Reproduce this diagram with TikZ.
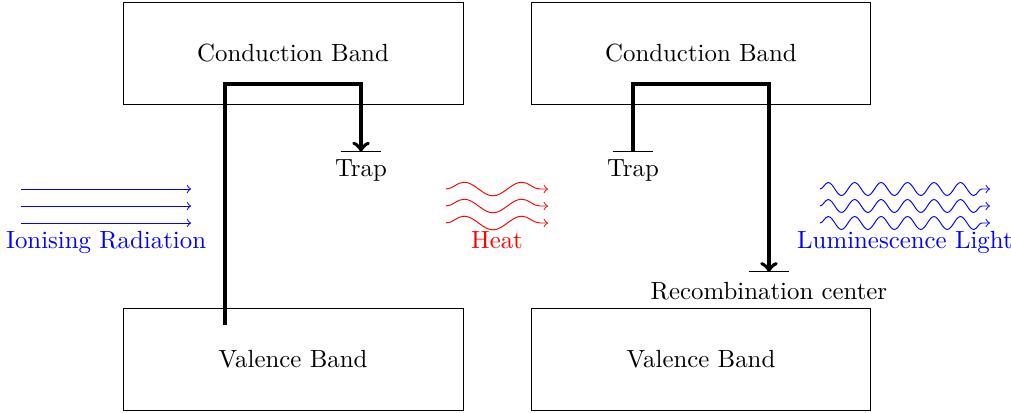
\documentclass[tikz,border=0pt]{standalone}
\usetikzlibrary{decorations.pathmorphing}
\begin{document}
\begin{tikzpicture}[every node/.style={font=\fontsize{10.4}{12.5}\selectfont}]
\useasboundingbox (-1.81,-0.03) rectangle (13.06,6.03);
\tikzset{
  band/.style={draw, minimum width=5cm, minimum height=1.5cm, inner sep=0pt},
  hop/.style={line width=1.6pt, ->},
  level/.style={draw},
  ray/.style={blue, ->},
  heatwave/.style={red, ->, decorate, decoration={snake, amplitude=0.1cm, segment length=0.85cm}},
  lightwave/.style={blue, ->, decorate, decoration={snake, amplitude=0.095cm, segment length=0.389cm}}
}
% bands
\node[band] (cb1) at (2.5,5.25) {Conduction Band};
\node[band] (cb2) at (8.5,5.25) {Conduction Band};
\node[band] (vb1) at (2.5,0.75) {Valence Band};
\node[band] (vb2) at (8.5,0.75) {Valence Band};
% levels
\coordinate (t1) at (3.5,3.8);
\coordinate (t2) at (7.5,3.8);
\coordinate (rc) at (9.5,2.03);
\draw[level] ([xshift=-0.3cm]t1) -- ([xshift=0.3cm]t1);
\draw[level] ([xshift=-0.3cm]t2) -- ([xshift=0.3cm]t2);
\draw[level] ([xshift=-0.3cm]rc) -- ([xshift=0.3cm]rc);
\node[below] (t1l) at (t1) {Trap};
\node[below] (t2l) at (t2) {Trap};
\node[below] (rcl) at ([yshift=-0.02cm]rc) {Recombination center};
% electron paths
\coordinate (s1) at (1.5,1.25);
\coordinate (c1) at (3.5,4.8);
\coordinate (c2) at (9.5,4.8);
\draw[hop] (s1) |- (c1) -- (t1);
\draw[hop] (t2) |- (c2) -- (rc);
% ionising radiation
\coordinate (ia1) at (-1.5,3.25); \coordinate (ib1) at (1,3.25);
\coordinate (ia2) at (-1.5,3.0);  \coordinate (ib2) at (1,3.0);
\coordinate (ia3) at (-1.5,2.75); \coordinate (ib3) at (1,2.75);
\draw[ray] (ia1) -- (ib1);
\draw[ray] (ia2) -- (ib2);
\draw[ray] (ia3) -- (ib3);
\node[below, blue] (ion) at (-0.25,2.75) {Ionising Radiation};
% heat
\coordinate (ha1) at (4.75,3.25); \coordinate (hb1) at (6.25,3.25);
\coordinate (ha2) at (4.75,3.0);  \coordinate (hb2) at (6.25,3.0);
\coordinate (ha3) at (4.75,2.75); \coordinate (hb3) at (6.25,2.75);
\draw[heatwave] (ha1) -- (hb1);
\draw[heatwave] (ha2) -- (hb2);
\draw[heatwave] (ha3) -- (hb3);
\node[below, red] (heat) at (5.5,2.75) {Heat};
% luminescence
\coordinate (la1) at (10.25,3.25); \coordinate (lb1) at (12.75,3.25);
\coordinate (la2) at (10.25,3.0);  \coordinate (lb2) at (12.75,3.0);
\coordinate (la3) at (10.25,2.75); \coordinate (lb3) at (12.75,2.75);
\draw[lightwave] (la1) -- (lb1);
\draw[lightwave] (la2) -- (lb2);
\draw[lightwave] (la3) -- (lb3);
\node[below, blue] (lum) at (11.5,2.75) {Luminescence Light};
\end{tikzpicture}
\end{document}
